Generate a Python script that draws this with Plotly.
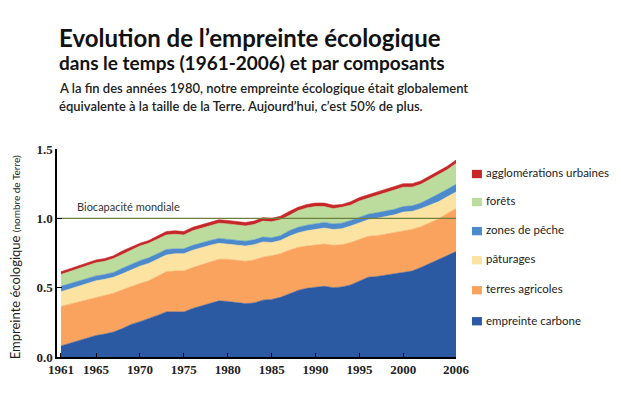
import plotly.graph_objects as go

years = list(range(1961, 2007))

# components of the footprint, in "number of Earths"
carbone = [0.08, 0.10, 0.12, 0.14, 0.155, 0.165, 0.18, 0.205, 0.235, 0.255,
           0.275, 0.30, 0.325, 0.325, 0.325, 0.35, 0.37, 0.39, 0.405, 0.40,
           0.39, 0.385, 0.39, 0.41, 0.415, 0.43, 0.455, 0.48, 0.495, 0.505,
           0.51, 0.50, 0.505, 0.52, 0.55, 0.575, 0.58, 0.59, 0.60, 0.615,
           0.62, 0.645, 0.675, 0.705, 0.735, 0.76]
agricoles = [0.285, 0.28, 0.28, 0.275, 0.275, 0.28, 0.28, 0.28, 0.275, 0.275,
             0.275, 0.28, 0.29, 0.295, 0.295, 0.295, 0.295, 0.295, 0.30, 0.305,
             0.305, 0.305, 0.31, 0.31, 0.315, 0.315, 0.315, 0.31, 0.305, 0.305,
             0.305, 0.305, 0.305, 0.305, 0.30, 0.295, 0.295, 0.295, 0.30, 0.295,
             0.30, 0.295, 0.295, 0.29, 0.30, 0.31]
paturages = [0.105, 0.11, 0.11, 0.115, 0.12, 0.115, 0.115, 0.115, 0.12, 0.125,
             0.125, 0.125, 0.12, 0.125, 0.125, 0.125, 0.125, 0.12, 0.115, 0.11,
             0.11, 0.11, 0.11, 0.11, 0.095, 0.095, 0.10, 0.105, 0.11, 0.11,
             0.115, 0.115, 0.115, 0.12, 0.12, 0.12, 0.125, 0.125, 0.125, 0.135,
             0.13, 0.13, 0.125, 0.125, 0.12, 0.12]
peche = [0.04, 0.04, 0.04, 0.04, 0.035, 0.035, 0.035, 0.04, 0.04, 0.04,
         0.04, 0.04, 0.04, 0.035, 0.035, 0.035, 0.035, 0.035, 0.035, 0.035,
         0.035, 0.035, 0.035, 0.035, 0.035, 0.035, 0.04, 0.04, 0.04, 0.04,
         0.04, 0.04, 0.04, 0.04, 0.04, 0.04, 0.04, 0.04, 0.04, 0.04,
         0.04, 0.04, 0.045, 0.055, 0.055, 0.055]
forets = [0.085, 0.085, 0.09, 0.09, 0.095, 0.095, 0.10, 0.10, 0.10, 0.105,
          0.105, 0.105, 0.105, 0.105, 0.10, 0.105, 0.105, 0.105, 0.11, 0.11,
          0.11, 0.11, 0.11, 0.115, 0.115, 0.115, 0.11, 0.12, 0.125, 0.125,
          0.115, 0.11, 0.115, 0.11, 0.115, 0.115, 0.12, 0.13, 0.135, 0.14,
          0.135, 0.135, 0.14, 0.14, 0.14, 0.15]
urbaines = [0.02, 0.02, 0.02, 0.02, 0.02, 0.02, 0.02, 0.025, 0.025, 0.02,
            0.02, 0.02, 0.025, 0.025, 0.025, 0.025, 0.025, 0.025, 0.025, 0.025,
            0.025, 0.025, 0.025, 0.025, 0.025, 0.025, 0.03, 0.025, 0.025, 0.025,
            0.025, 0.025, 0.02, 0.025, 0.025, 0.025, 0.025, 0.025, 0.025, 0.025,
            0.025, 0.025, 0.025, 0.025, 0.025, 0.025]

series = [
    ("empreinte carbone", carbone, "#2C5AA2"),
    ("terres agricoles", agricoles, "#F9A35E"),
    ("pâturages", paturages, "#FCE3A2"),
    ("zones de pêche", peche, "#4D8ACC"),
    ("forêts", forets, "#BBDC9D"),
    ("agglomérations urbaines", urbaines, "#C62628"),
]

x_ticks = [1961, 1965, 1970, 1975, 1980, 1985, 1990, 1995, 2000, 2006]
y_ticks = [0.0, 0.5, 1.0, 1.5]
biocapacite = 1.0

SANS = "Lato"
SERIF = "Liberation Serif"

fig = go.Figure()
for name, vals, col in series:
    fig.add_trace(go.Scatter(
        x=years, y=vals, name=name,
        mode="lines", stackgroup="one",
        line=dict(color=col, width=0.6),
        fillcolor=col,
        showlegend=False,
        hoverinfo="skip",
    ))

# world biocapacity line
fig.add_trace(go.Scatter(
    x=[1960.55, 2006], y=[biocapacite, biocapacite],
    mode="lines", line=dict(color="#6F7F3D", width=1.3),
    showlegend=False, hoverinfo="skip",
))

# the page body adds an 8px margin: figure is sized to fit without scrollbars
# and margins are shifted by -8px
fig.update_layout(
    width=613, height=398,
    margin=dict(l=49, r=165, t=141, b=49),
    paper_bgcolor="white",
    plot_bgcolor="white",
    font=dict(family=SANS, size=12, color="#222"),
)

fig.update_xaxes(
    range=[1960.55, 2006], tickvals=x_ticks,
    showline=True, linewidth=1.5, linecolor="black",
    ticks="inside", ticklen=4, tickcolor="black",
    showgrid=False, zeroline=False,
    tickfont=dict(family=SERIF, size=13, color="#222", weight="bold"),
)
fig.update_yaxes(
    range=[0, 1.5], tickvals=y_ticks, ticktext=["0.0", "0.5", "1.0", "1.5"],
    showline=True, linewidth=1.5, linecolor="black",
    ticks="inside", ticklen=5, tickcolor="black",
    showgrid=False, zeroline=False,
    tickfont=dict(family=SERIF, size=13, color="#222", weight="bold"),
)

ann = []
ann.append(dict(x=0.0, y=1.534, xref="paper", yref="paper", xanchor="left",
                yanchor="middle", showarrow=False,
                text="<b>Evolution de l’empreinte écologique</b>",
                font=dict(family=SANS, size=24, color="#111")))
ann.append(dict(x=0.0, y=1.414, xref="paper", yref="paper", xanchor="left",
                yanchor="middle", showarrow=False,
                text="<b>dans le temps (1961-2006) et par composants</b>",
                font=dict(family=SANS, size=19, color="#111")))
ann.append(dict(x=0.0, y=1.294, xref="paper", yref="paper", xanchor="left",
                yanchor="middle", showarrow=False,
                text="A la fin des années 1980, notre empreinte écologique était globalement",
                font=dict(family=SANS, size=13, color="#222", weight=600)))
ann.append(dict(x=0.0, y=1.207, xref="paper", yref="paper", xanchor="left",
                yanchor="middle", showarrow=False,
                text="équivalente à la taille de la Terre. Aujourd’hui, c’est 50% de plus.",
                font=dict(family=SANS, size=13, color="#222", weight=600)))
ann.append(dict(x=-0.105, y=0.48, xref="paper", yref="paper",
                xanchor="center", yanchor="middle", showarrow=False,
                textangle=-90,
                text="Empreinte écologique <span style='font-size:10px'>(nombre de Terre)</span>",
                font=dict(family=SANS, size=13, color="#222")))
ann.append(dict(x=1962.6, y=biocapacite, xref="x", yref="y", xanchor="left",
                yanchor="bottom", yshift=3, showarrow=False,
                text="Biocapacité mondiale",
                font=dict(family=SANS, size=11, color="#333")))

# hand-drawn legend, top item first
shapes = []
row_y = [174, 202, 231, 260, 290, 321]  # screen pixel rows of legend items
for (name, vals, col), py in zip(reversed(series), row_y):
    yc = (356.7 - py) / 207.7
    shapes.append(dict(type="rect", xref="paper", yref="paper",
                       x0=1.040, x1=1.065, y0=yc - 0.02, y1=yc + 0.02,
                       fillcolor=col, line=dict(width=0)))
    ann.append(dict(x=1.069, y=yc + 0.006, xref="paper", yref="paper",
                    xanchor="left", yanchor="middle", showarrow=False,
                    text=name, font=dict(family=SANS, size=11.5, color="#222")))

fig.update_layout(annotations=ann, shapes=shapes)

fig.write_html("out.html")
